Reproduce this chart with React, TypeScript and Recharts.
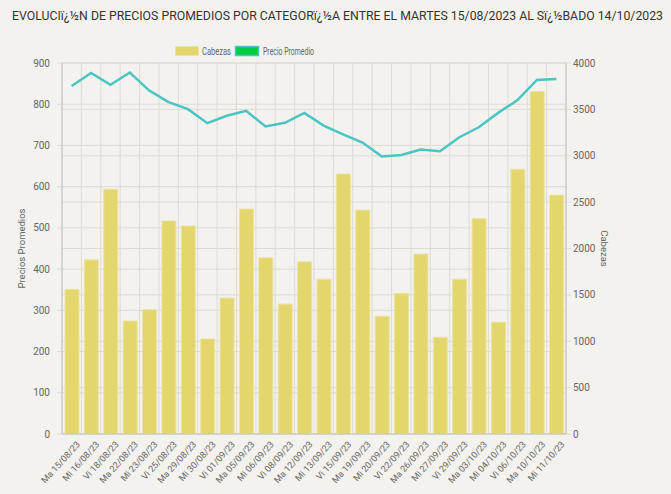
import React from "react";
import {
  ComposedChart,
  Bar,
  Line,
  XAxis,
  YAxis,
  CartesianGrid,
} from "recharts";

const TITULO =
  "EVOLUCIï¿½N DE PRECIOS PROMEDIOS POR CATEGORï¿½A ENTRE EL MARTES 15/08/2023 AL Sï¿½BADO 14/10/2023";

const fechas = [
  "Ma 15/08/23", "Mi 16/08/23", "Vi 18/08/23", "Ma 22/08/23", "Mi 23/08/23",
  "Vi 25/08/23", "Ma 29/08/23", "Mi 30/08/23", "Vi 01/09/23", "Ma 05/09/23",
  "Mi 06/09/23", "Vi 08/09/23", "Ma 12/09/23", "Mi 13/09/23", "Vi 15/09/23",
  "Ma 19/09/23", "Mi 20/09/23", "Vi 22/09/23", "Ma 26/09/23", "Mi 27/09/23",
  "Vi 29/09/23", "Ma 03/10/23", "Mi 04/10/23", "Vi 06/10/23", "Ma 10/10/23",
  "Mi 11/10/23",
];

const cabezas = [
  1560, 1878, 2640, 1218, 1340, 2297, 2243, 1025, 1466, 2426,
  1900, 1401, 1856, 1669, 2803, 2414, 1270, 1516, 1940, 1043,
  1669, 2322, 1206, 2855, 3692, 2576,
];

const precioPromedio = [
  844, 876, 847, 877, 833, 805, 788, 754, 772, 784,
  746, 755, 779, 748, 727, 707, 673, 677, 690, 686,
  720, 744, 779, 810, 859, 861,
];

const ticksPrecio = [0, 100, 200, 300, 400, 500, 600, 700, 800, 900];
const ticksCabezas = [0, 500, 1000, 1500, 2000, 2500, 3000, 3500, 4000];

const data = fechas.map((fecha, i) => ({
  fecha,
  cabezas: cabezas[i],
  precio: precioPromedio[i],
}));

const FONT = "Roboto, sans-serif";
const GRID = "#dcdad5";
const AXIS = "#c4c2bd";
const TEXT = "#666";

function FechaTick(props: any) {
  const { x, y, payload } = props;
  return (
    <g transform={`translate(${x},${y})`}>
      <text
        x={4}
        y={6}
        transform="rotate(-48)"
        textAnchor="end"
        dominantBaseline="middle"
        fontSize={9}
        fontFamily={FONT}
        fill={TEXT}
      >
        {payload.value}
      </text>
    </g>
  );
}

// leyenda dibujada aparte para no mover el area del grafico
function Leyenda() {
  return (
    <svg width={671} height={20} style={{ position: "absolute", left: 0, top: 41 }}>
      <rect x={175.5} y={5.5} width={23} height={9} fill="#e3d66c" stroke="#ece3a2" />
      <text x={202} y={13.5} fontSize={10.5} fontFamily={FONT} fill={TEXT} textLength={29} lengthAdjust="spacingAndGlyphs">
        Cabezas
      </text>
      <rect x={235.5} y={5.5} width={23} height={9} fill="#00cc44" stroke="#4bc5c4" strokeWidth={1.5} />
      <text x={263} y={13.5} fontSize={10.5} fontFamily={FONT} fill={TEXT} textLength={51} lengthAdjust="spacingAndGlyphs">
        Precio Promedio
      </text>
    </svg>
  );
}

export default function App() {
  const n = fechas.length;
  return (
    <div
      style={{
        position: "absolute",
        left: 0,
        top: 0,
        width: 671,
        height: 494,
        background: "#f3f2ee",
        overflow: "hidden",
      }}
    >
      <svg width={671} height={30} style={{ position: "absolute", left: 0, top: 0 }}>
        <text
          x={12}
          y={20}
          textLength={651}
          lengthAdjust="spacingAndGlyphs"
          fontSize={12}
          fontFamily={FONT}
          fill="#333"
        >
          {TITULO}
        </text>
      </svg>
      <Leyenda />
      <ComposedChart
        width={671}
        height={494}
        data={data}
        margin={{ top: 63, right: 0, bottom: 0, left: 0 }}
        barSize={14}
      >
        <CartesianGrid
          yAxisId="precio"
          stroke={GRID}
          verticalCoordinatesGenerator={({ offset }: any) =>
            Array.from({ length: n + 1 }, (_, i) => offset.left + (i * offset.width) / n)
          }
        />
        <CartesianGrid yAxisId="cabezas" stroke={GRID} vertical={false} />
        <XAxis
          dataKey="fecha"
          interval={0}
          height={60}
          tick={<FechaTick />}
          tickLine={false}
          axisLine={{ stroke: AXIS }}
        />
        <YAxis
          yAxisId="precio"
          orientation="left"
          width={62}
          domain={[0, 900]}
          ticks={ticksPrecio}
          tick={{ fontSize: 10, fill: TEXT, fontFamily: FONT, dx: -5 }}
          tickSize={5}
          tickLine={{ stroke: GRID }}
          axisLine={{ stroke: AXIS }}
          label={{
            value: "Precios Promedios",
            angle: -90,
            position: "center",
            dx: -9,
            fontSize: 9.5,
            fill: TEXT,
            fontFamily: FONT,
          }}
        />
        <YAxis
          yAxisId="cabezas"
          orientation="right"
          width={105}
          domain={[0, 4000]}
          ticks={ticksCabezas}
          tick={{ fontSize: 10, fill: TEXT, fontFamily: FONT }}
          tickSize={5}
          tickLine={{ stroke: GRID }}
          axisLine={{ stroke: AXIS }}
          label={{
            value: "Cabezas",
            angle: 90,
            position: "center",
            dx: -14,
            fontSize: 9.5,
            fill: TEXT,
            fontFamily: FONT,
          }}
        />
        <Bar
          yAxisId="cabezas"
          dataKey="cabezas"
          name="Cabezas"
          fill="#e3d66c"
          stroke="#ece3a2"
          strokeWidth={1}
          isAnimationActive={false}
        />
        <Line
          yAxisId="precio"
          dataKey="precio"
          name="Precio Promedio"
          type="linear"
          stroke="#4bc5c4"
          strokeWidth={2.5}
          dot={false}
          activeDot={false}
          isAnimationActive={false}
        />
      </ComposedChart>
    </div>
  );
}
